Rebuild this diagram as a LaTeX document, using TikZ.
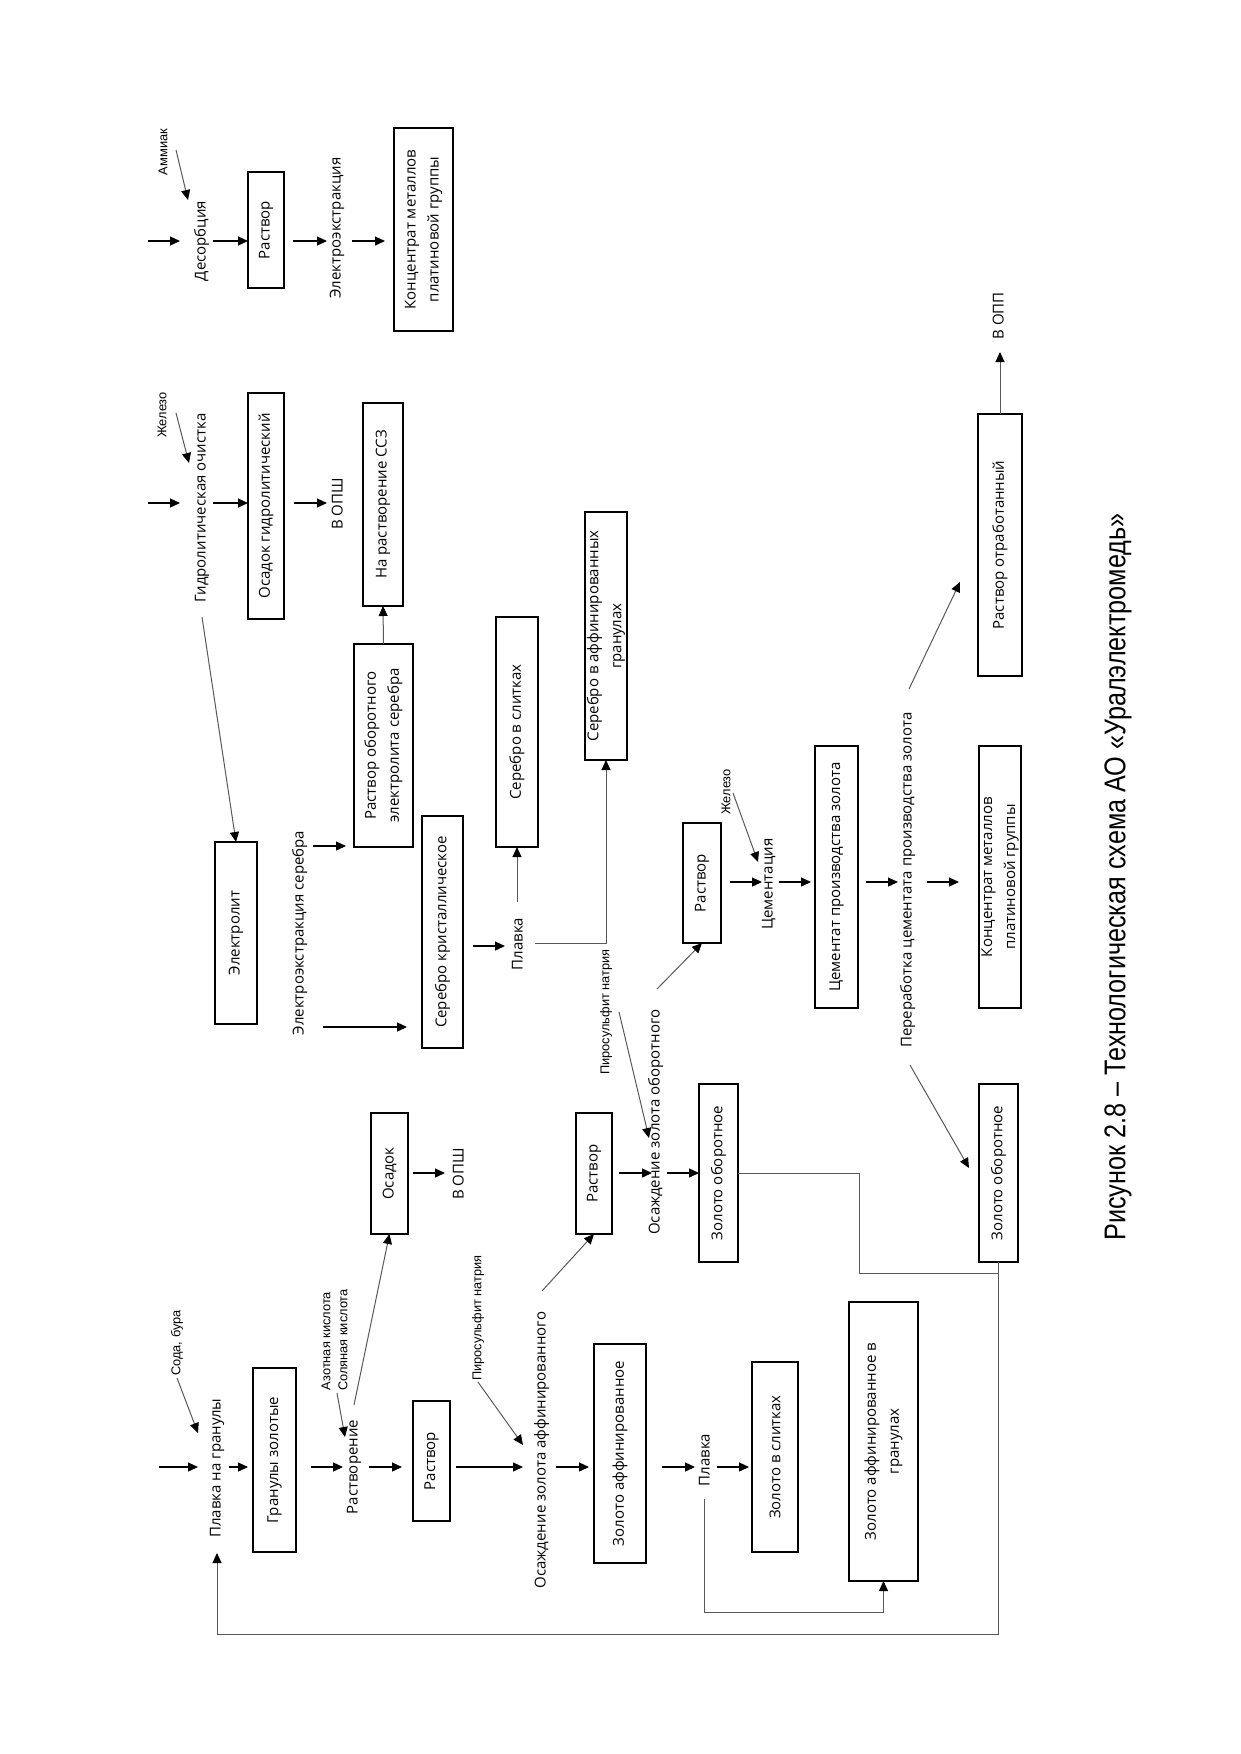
\documentclass[tikz,border=0pt]{standalone}
\usepackage{fontspec}
\usepackage{graphicx}
\usetikzlibrary{arrows.meta}
\newfontfamily\mf{Open Sans}
\newfontfamily\lf{Liberation Sans}
\begin{document}
\begin{tikzpicture}[x=1pt,y=-1pt,
 bx/.style={draw, line width=1.8pt, rotate=90, inner sep=0pt, outer sep=0pt, align=center, font=\mf\fontsize{15}{23}\selectfont},
 tx/.style={rotate=90, inner sep=0pt, text height=11pt, text depth=4pt, font=\mf\fontsize{15}{18}\selectfont},
 lb/.style={rotate=90, inner sep=0pt, font=\lf\fontsize{12.8}{14}\selectfont},
 arr/.style={line width=1.3pt, -{Triangle[length=10pt,width=9pt]}},
 garr/.style={line width=1pt, draw=black!65, -{Triangle[length=10pt,width=9pt,color=black]}},
 gline/.style={line width=1pt, draw=black!65},
]
\fill[white] (0,0) rectangle (1240,1754);
\useasboundingbox (0,0) rectangle (1240,1754);

% ---------- boxes ----------
\node[bx,minimum width=116pt,minimum height=36pt] (rast1) at (266,230) {Раствор};
\node[bx,minimum width=203pt,minimum height=59pt] (conc1) at (423.5,229.5) {Концентрат металлов\\платиновой группы};
\node[bx,minimum width=226pt,minimum height=36pt] (osg) at (266,506) {Осадок гидролитический};
\node[bx,minimum width=203pt,minimum height=40pt] (nars) at (383,504.5) {На растворение ССЗ};
\node[bx,minimum width=203pt,minimum height=59pt] (rob) at (383.5,745.5) {Раствор оборотного\\электролита серебра};
\node[bx,minimum width=182pt,minimum height=42pt] (el) at (236,933) {Электролит};
\node[bx,minimum width=232pt,minimum height=41pt] (sk) at (442.5,932) {Серебро кристаллическое};
\node[bx,minimum width=230pt,minimum height=42pt] (ss) at (517,732) {Серебро в слитках};
\node[bx,minimum width=248pt,minimum height=42pt] (sag) at (606,636) {Серебро в аффинированных\\гранулах};
\node[bx,minimum width=184pt,minimum height=43pt] (gz) at (274.5,1460) {Гранулы золотые};
\node[bx,minimum width=120pt,minimum height=37pt] (rast2) at (431.5,1461) {Раствор};
\node[bx,minimum width=121pt,minimum height=37pt] (osad) at (389.5,1173.5) {Осадок};
\node[bx,minimum width=121pt,minimum height=36pt] (rast3) at (594,1173.5) {Раствор};
\node[bx,minimum width=178pt,minimum height=39pt] (zo1) at (718.5,1173) {Золото оборотное};
\node[bx,minimum width=120pt,minimum height=38pt] (rast4) at (702,883) {Раствор};
\node[bx,minimum width=262pt,minimum height=43pt] (cem) at (836.5,877) {Цементат производства золота};
\node[bx,minimum width=262pt,minimum height=42pt] (conc2) at (1000,877) {Концентрат металлов\\платиновой группы};
\node[bx,minimum width=262pt,minimum height=44pt] (rot) at (1000,545) {Раствор отработанный};
\node[bx,minimum width=178pt,minimum height=39pt] (zo2) at (998.5,1173) {Золото оборотное};
\node[bx,minimum width=219pt,minimum height=52pt] (za) at (620,1453.5) {Золото аффинированное};
\node[bx,minimum width=190pt,minimum height=46pt] (zs) at (775,1457) {Золото в слитках};
\node[bx,minimum width=279pt,minimum height=69pt] (zag) at (883.5,1441.5) {Золото аффинированное в\\гранулах};

% ---------- process texts ----------
\node[tx] (des) at (202,241) {Десорбция};
\node[tx] (ee) at (337,228) {Электроэкстракция};
\node[tx] (gid) at (202,508) {Гидролитическая очистка};
\node[tx] (opsh1) at (339,504) {В ОПШ};
\node[tx] (ees) at (300,933) {Электроэкстракция серебра};
\node[tx] (pl1) at (519,944) {Плавка};
\node[tx] (opsh2) at (460,1174) {В ОПШ};
\node[tx] (plg) at (217,1468) {Плавка на гранулы};
\node[tx] (rastv) at (354,1467) {Растворение};
\node[tx] (osa) at (542,1450) {Осаждение золота аффинированного};
\node[tx] (oso) at (656,1122) {Осаждение золота оборотного};
\node[tx] (cemt) at (769,884) {Цементация};
\node[tx] (per) at (908,880) {Переработка цементата производства золота};
\node[tx] (opp) at (1000,316) {В ОПП};
\node[tx] (pl2) at (706,1460) {Плавка};

% ---------- reagent labels ----------
\node[lb] (amm) at (163,152) {Аммиак};
\node[lb] (fe1) at (162,415) {Железо};
\node[lb] (soda) at (177,1343) {Сода, бура};
\node[lb] (azot) at (326,1341) {Азотная кислота};
\node[lb] (sol) at (343,1340) {Соляная кислота};
\node[lb] (piro1) at (478,1318) {Пиросульфит натрия};
\node[lb] (piro2) at (606,1012) {Пиросульфит натрия};
\node[lb] (fe2) at (726,792) {Железо};

% ---------- caption ----------
\node[rotate=90, inner sep=0pt] (cap) at (1118,877) {\resizebox{727pt}{\height}{\lf\fontsize{30}{36}\selectfont Рисунок 2.8 – Технологическая схема АО «Уралэлектромедь»}};

% ---------- free starts ----------
\coordinate (inA) at (148,241);
\coordinate (inB) at (148,503);
\coordinate (inG) at (159,1467);

% ---------- row A ----------
\draw[arr] (inA) -- ([shift={(-22,0)}]des.center);
\draw[arr] ([shift={(11,0)}]des.center) -- (rast1.north |- des.center);
\draw[arr] ([shift={(27,11)}]rast1.center) -- ([shift={(-10,13)}]ee.center);
\draw[arr] ([shift={(15,13)}]ee.center) -- ([shift={(-38.5,11.5)}]conc1.center);
\draw[garr] ([shift={(13,-2)}]amm.center) -- ([shift={(-14,-41)}]des.center);

% ---------- row B ----------
\draw[arr] (inB) -- ([shift={(-22,-5)}]gid.center);
\draw[arr] ([shift={(11,-5)}]gid.center) -- (osg.north |- inB);
\draw[arr] ([shift={(28,-3)}]osg.center) -- ([shift={(-12,-1)}]opsh1.center);
\draw[garr] ([shift={(14,-2)}]fe1.center) -- ([shift={(-13,-45)}]gid.center);
\draw[garr] ([shift={(0,109)}]gid.center) -- (el.east);
\draw[garr] (rob.east) -- (nars.west);

% ---------- silver ----------
\draw[arr] ([shift={(13,-87)}]ees.center) -- ([shift={(-8,-1)}]rob.north west);
\draw[arr] ([shift={(23,94)}]ees.center) -- ([shift={(-35.5,95)}]sk.center);
\draw[arr] ([shift={(30.5,14)}]sk.center) -- ([shift={(-14,2)}]pl1.center);
\draw[garr] ([shift={(-2,-42)}]pl1.center) -- (ss.west);
\draw[garr] ([shift={(16,-1)}]pl1.center) -| (sag.west);

% ---------- gold ----------
\draw[arr] (inG) -- ([shift={(-19,-1)}]plg.center);
\draw[garr] ([shift={(0,35)}]soda.center) -- ([shift={(-19,-35)}]plg.center);
\draw[arr] ([shift={(12,-1)}]plg.center) -- ([shift={(-26.5,7)}]gz.center);
\draw[arr] ([shift={(36.5,7)}]gz.center) -- ([shift={(-11,0)}]rastv.center);
\draw[garr] ([shift={(11,52)}]azot.center) -- ([shift={(-9,-30)}]rastv.center);
\draw[arr] ([shift={(15,0)}]rastv.center) -- ([shift={(-29.5,6)}]rast2.center);
\draw[garr] ([shift={(0,-62)}]rastv.center) -- (osad.west);
\draw[arr] ([shift={(23.5,-0.5)}]osad.center) -- ([shift={(-15,-1)}]opsh2.center);
\draw[arr] ([shift={(24.5,6)}]rast2.center) -- ([shift={(-19,17)}]osa.center);
\draw[garr] ([shift={(0,64)}]piro1.center) -- ([shift={(-19,-5)}]osa.center);
\draw[garr] ([shift={(0,-159)}]osa.center) -- (rast3.west);
\draw[arr] ([shift={(25,-0.5)}]rast3.center) -- ([shift={(-4,51)}]oso.center);
\draw[garr] ([shift={(13,0)}]piro2.center) -- ([shift={(-7,16)}]oso.center);
\draw[arr] ([shift={(11,51)}]oso.center) -- (zo1.north);
\draw[garr] ([shift={(1,-133)}]oso.center) -- (rast4.west);
\draw[garr] ([shift={(7,1)}]fe2.center) -- ([shift={(-11,-22)}]cemt.center);
\draw[arr] ([shift={(28,-1)}]rast4.center) -- ([shift={(-7,-2)}]cemt.center);
\draw[arr] ([shift={(10,-2)}]cemt.center) -- ([shift={(-25.5,5)}]cem.center);
\draw[arr] ([shift={(29.5,5)}]cem.center) -- ([shift={(-10,2)}]per.center);
\draw[arr] ([shift={(19,2)}]per.center) -- ([shift={(-41,5)}]conc2.center);
\draw[garr] ([shift={(1,-191)}]per.center) -- ([shift={(-40,37)}]rot.center);
\draw[garr] ([shift={(2,185)}]per.center) -- ([shift={(-29.5,-5)}]zo2.center);
\draw[garr] (rot.east) -- ([shift={(0,36)}]opp.center);
\draw[gline] (zo1.south) -- ++(121,0) |- ([shift={(0,11)}]zo2.west);
\draw[garr] (zo2.west) -- ++(0,372) -| ([shift={(0,85)}]plg.center);
\draw[arr] ([shift={(14,17)}]osa.center) -- ([shift={(-31,13.5)}]za.center);
\draw[arr] ([shift={(42,13.5)}]za.center) -- ([shift={(-11,7)}]pl2.center);
\draw[arr] ([shift={(11,7)}]pl2.center) -- ([shift={(-26,10)}]zs.center);
\draw[garr] ([shift={(-2,39)}]pl2.center) -- ++(0,113) -| (zag.west);
\end{tikzpicture}
\end{document}
